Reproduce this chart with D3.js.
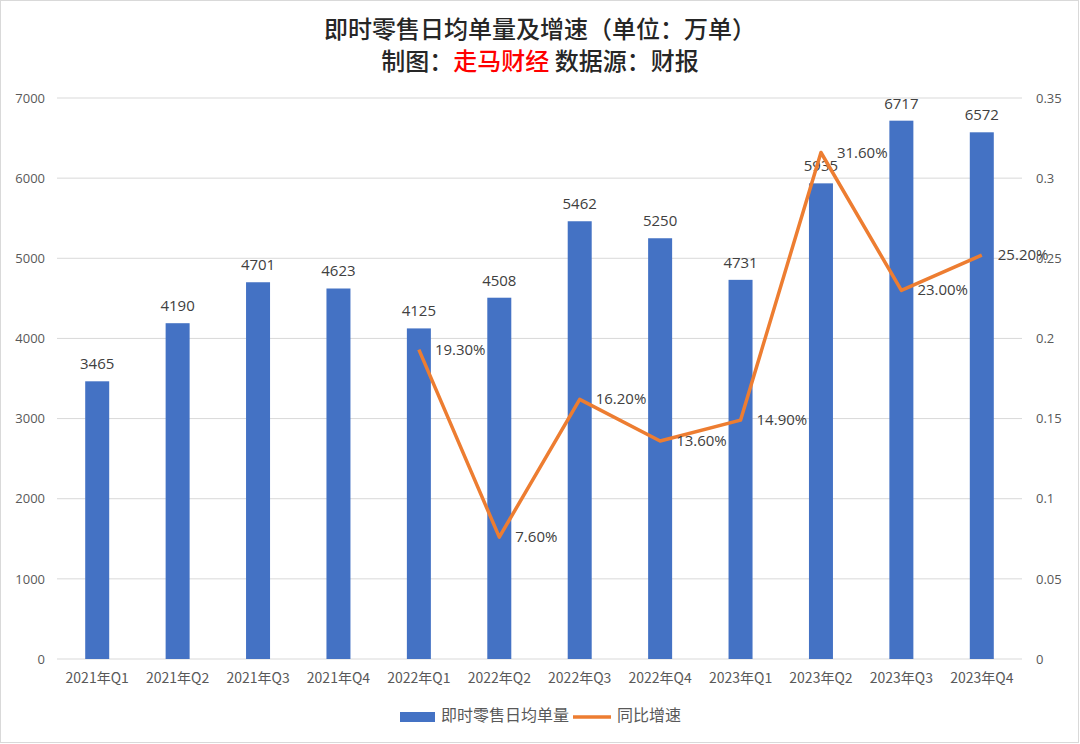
<!DOCTYPE html>
<html><head><meta charset="utf-8">
<script src="https://cdn.jsdelivr.net/npm/d3@7/dist/d3.min.js"></script>
<style>body{margin:0;background:#fff}svg{display:block}text{font-family:"Noto Sans CJK SC","Noto Sans",sans-serif}</style>
</head><body><svg id="c" width="1080" height="744"></svg>
<script>
const categories=["2021年Q1","2021年Q2","2021年Q3","2021年Q4","2022年Q1","2022年Q2","2022年Q3","2022年Q4","2023年Q1","2023年Q2","2023年Q3","2023年Q4"];
const orders=[3465,4190,4701,4623,4125,4508,5462,5250,4731,5935,6717,6572];
const growth=[null,null,null,null,0.193,0.076,0.162,0.136,0.149,0.316,0.230,0.252];
const leftTicks=[0,1000,2000,3000,4000,5000,6000,7000];
const rightTicks=[0,0.05,0.1,0.15,0.2,0.25,0.3,0.35];

const svg=d3.select("#c");
svg.append("rect").attr("x",0.5).attr("y",0.5).attr("width",1078).attr("height",742).attr("fill","#fff").attr("stroke","#d9d9d9");
const L=57,R=1022,T=98,B=659;
const x=d3.scaleBand().domain(categories).range([L,R]);
const y=d3.scaleLinear().domain([0,7000]).range([B,T]);
const y2=d3.scaleLinear().domain([0,0.35]).range([B,T]);

// grid
svg.append("g").selectAll("line").data(leftTicks).join("line")
 .attr("x1",L).attr("x2",R).attr("y1",d=>y(d)).attr("y2",d=>y(d))
 .attr("stroke","#d9d9d9").attr("stroke-width",1);

// left axis
const ax=svg.append("g").attr("transform",`translate(${L},0)`).call(d3.axisLeft(y).tickValues(leftTicks).tickSize(0).tickPadding(12).tickFormat(d=>String(d)));
ax.select(".domain").remove();
ax.selectAll("text").attr("font-size",13).attr("fill","#595959").style("font-family","'Open Sans',sans-serif");
const ax2=svg.append("g").attr("transform",`translate(${R},0)`).call(d3.axisRight(y2).tickValues(rightTicks).tickSize(0).tickPadding(14).tickFormat(d=>String(+d.toFixed(2))));
ax2.select(".domain").remove();
ax2.selectAll("text").attr("font-size",13).attr("fill","#595959").style("font-family","'Open Sans',sans-serif");
const axb=svg.append("g").attr("transform",`translate(0,${B})`).call(d3.axisBottom(x).tickSize(0).tickPadding(14));
axb.select(".domain").remove();
axb.selectAll("text").attr("font-size",14).attr("fill","#595959");

// bars
const bw=24;
svg.append("g").selectAll("rect").data(orders).join("rect")
 .attr("x",(d,i)=>x(categories[i])+x.bandwidth()/2-bw/2).attr("width",bw)
 .attr("y",d=>y(d)).attr("height",d=>B-y(d)).attr("fill","#4472c4");
svg.append("g").selectAll("text").data(orders).join("text")
 .attr("x",(d,i)=>x(categories[i])+x.bandwidth()/2).attr("y",d=>y(d)-12)
 .attr("text-anchor","middle").attr("font-size",15).attr("fill","#404040").style("font-family","'Open Sans',sans-serif").text(d=>d);

// line
const pts=growth.map((g,i)=>({g,i})).filter(d=>d.g!=null);
const line=d3.line().x(d=>x(categories[d.i])+x.bandwidth()/2).y(d=>y2(d.g));
svg.append("path").datum(pts).attr("d",line).attr("fill","none").attr("stroke","#ed7d31").attr("stroke-width",3.5).attr("stroke-linejoin","round");
svg.append("g").selectAll("text").data(pts).join("text")
 .attr("x",d=>x(categories[d.i])+x.bandwidth()/2+16).attr("y",d=>y2(d.g)+1)
 .attr("dominant-baseline","middle").attr("font-size",15).attr("fill","#404040").style("font-family","'Open Sans',sans-serif")
 .text(d=>(d.g*100).toFixed(2)+"%");

// title
svg.append("text").attr("x",540).attr("y",38).attr("text-anchor","middle").attr("font-size",24).attr("font-weight",500).attr("fill","#262626").text("即时零售日均单量及增速（单位：万单）");
const t2=svg.append("text").attr("x",540).attr("y",70).attr("text-anchor","middle").attr("font-size",24).attr("font-weight",500).attr("fill","#262626");
t2.append("tspan").text("制图：");
t2.append("tspan").attr("fill","#ff0000").text("走马财经");
t2.append("tspan").text(" 数据源：财报");

// legend
const lg=svg.append("g");
lg.append("rect").attr("x",400).attr("y",712).attr("width",35).attr("height",10).attr("fill","#4472c4");
lg.append("text").attr("x",441).attr("y",717).attr("dominant-baseline","middle").attr("font-size",16).attr("fill","#595959").text("即时零售日均单量");
lg.append("line").attr("x1",573).attr("x2",611).attr("y1",717).attr("y2",717).attr("stroke","#ed7d31").attr("stroke-width",3.5);
lg.append("text").attr("x",617).attr("y",717).attr("dominant-baseline","middle").attr("font-size",16).attr("fill","#595959").text("同比增速");
</script></body></html>
